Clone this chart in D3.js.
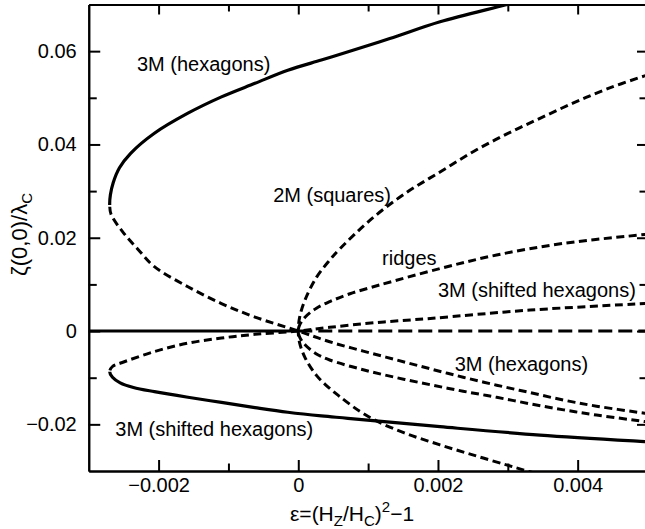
<!DOCTYPE html>
<html>
  <head>
    <style>
      html,
      body {
        margin: 0;
        padding: 0;
        background: #fff;
      }

      svg text {
        font-family: "Liberation Sans", Arial, Helvetica, sans-serif;
        font-size: 20px;
        fill: #000;
      }
    </style>
  </head>
  <body>
    <div id="viz"></div>
    <script src="https://d3js.org/d3.v7.min.js"></script>

    <script>
      // curves, [eps, zeta]
      // hexagons: stable (solid) part from the top down to the turning point, then unstable (dashed)
      const hexBranch = [
        [0.0031, 0.0705], [0.00296, 0.0699], [0.00203, 0.0663], [0.00131, 0.0627],
        [0.00068, 0.0597], [0.00033, 0.0581], [-0.00015, 0.0559], [-0.00062, 0.0531],
        [-0.0011, 0.0502], [-0.00158, 0.0467], [-0.00206, 0.0424], [-0.0024, 0.0381],
        [-0.00256, 0.035], [-0.00265, 0.0318], [-0.00269, 0.0292], [-0.0027, 0.027],
        [-0.00268, 0.025], [-0.0025, 0.021], [-0.0023, 0.0176], [-0.00206, 0.0138],
        [-0.00158, 0.0095], [-0.0011, 0.0059], [-0.00062, 0.003], [0, 0],
        [0.00045, -0.0023], [0.00093, -0.0043], [0.00141, -0.0062], [0.00189, -0.0081],
        [0.00236, -0.0099], [0.00284, -0.0116], [0.00332, -0.0132], [0.0038, -0.0148],
        [0.00427, -0.0161], [0.00496, -0.0176], [0.0052, -0.018],
      ];

      // shifted hexagons: stable (solid) part from the right to the turning point, then unstable (dashed)
      const shiftedBranch = [
        [0.0052, -0.0239], [0.00496, -0.0237], [0.00346, -0.0223], [0.00203, -0.0205],
        [0.00071, -0.0187], [0.00033, -0.0182], [-0.00015, -0.0174], [-0.00062, -0.0164],
        [-0.0011, -0.0153], [-0.00158, -0.0142], [-0.00206, -0.013], [-0.00236, -0.0121],
        [-0.00255, -0.0111], [-0.00266, -0.0099], [-0.0027, -0.0087], [-0.00266, -0.0076],
        [-0.00253, -0.0068], [-0.00206, -0.0044], [-0.00158, -0.0026], [-0.0011, -0.0015],
        [-0.00062, -0.0007], [0, 0], [0.00045, 0.0008], [0.0011, 0.0018],
        [0.00189, 0.0027], [0.00332, 0.0045], [0.00496, 0.0059], [0.0052, 0.0061],
      ];

      const squares = [
        [0.0052, 0.0558], [0.00496, 0.0547], [0.00442, 0.0519], [0.00394, 0.0489],
        [0.00346, 0.0456], [0.00298, 0.0422], [0.00251, 0.0385], [0.00203, 0.0341],
        [0.00155, 0.0297], [0.00107, 0.0243], [0.0006, 0.0177], [0.00045, 0.0152],
        [0.00026, 0.0115], [0.0001, 0.0068], [0.00002, 0.003], [0, 0],
        [0.00002, -0.0026], [0.0001, -0.0058], [0.00026, -0.0095], [0.00045, -0.0123],
        [0.0006, -0.0141], [0.00088, -0.0172], [0.00115, -0.0195], [0.00155, -0.022],
        [0.00203, -0.0244], [0.00251, -0.0266], [0.00298, -0.0287], [0.0033, -0.0301],
        [0.0036, -0.0313],
      ];

      const ridges = [
        [0.0052, 0.0211], [0.00496, 0.0207], [0.0038, 0.0188], [0.00284, 0.0163],
        [0.00203, 0.0134], [0.00117, 0.0099], [0.00074, 0.008], [0.00045, 0.0063],
        [0.00026, 0.0049], [0.0001, 0.003], [0.00002, 0.0013], [0, 0],
        [0.00002, -0.0013], [0.0001, -0.003], [0.00026, -0.0049], [0.00045, -0.0062],
        [0.00093, -0.0083], [0.00141, -0.01], [0.00189, -0.0115], [0.00236, -0.0129],
        [0.00284, -0.0142], [0.00332, -0.0156], [0.0038, -0.0169], [0.00427, -0.018],
        [0.00496, -0.0194], [0.0052, -0.0199],
      ];

      const flatStable = [[-0.003, 0], [0, 0]];
      const flatUnstable = [[0, 0], [0.0052, 0]];

      const xMajorTicks = [-0.002, 0, 0.002, 0.004];
      const xTickLabels = ["\u22120.002", "0", "0.002", "0.004"];
      const xMinorTicks = [-0.001, 0.001, 0.003];
      const yMajorTicks = [-0.02, 0, 0.02, 0.04, 0.06];
      const yTickLabels = ["\u22120.02", "0", "0.02", "0.04", "0.06"];
      const yMinorTicks = [-0.01, 0.01, 0.03, 0.05];

      const labelTexts = [
        "3M (hexagons)", "2M (squares)", "ridges",
        "3M (shifted hexagons)", "3M (hexagons)", "3M (shifted hexagons)",
      ];
      const labelAnchors = [
        [-0.00231, 0.0557], [-0.00036, 0.0277], [0.0012, 0.0142],
        [0.002, 0.0073], [0.00224, -0.0086], [-0.00262, -0.0226],
      ];

      const width = 645;
      const height = 529;
      const plotLeft = 88.75;
      const plotRight = 647.5;
      const plotTop = 4.5;
      const plotBottom = 471;

      const xScale = d3.scaleLinear().domain([-0.003, 0.005]).range([plotLeft, plotRight]);
      const yScale = d3.scaleLinear().domain([-0.03, 0.07]).range([plotBottom, plotTop]);

      const svg = d3
        .select("#viz")
        .append("svg")
        .attr("width", width)
        .attr("height", height)
        .style("display", "block");

      svg.append("rect").attr("width", width).attr("height", height).attr("fill", "#fff");

      const defs = svg.append("defs");
      defs
        .append("clipPath")
        .attr("id", "plot-clip")
        .append("rect")
        .attr("x", plotLeft)
        .attr("y", plotTop)
        .attr("width", plotRight - plotLeft)
        .attr("height", plotBottom - plotTop);

      const line = d3
        .line()
        .x((d) => xScale(d[0]))
        .y((d) => yScale(d[1]))
        .curve(d3.curveCatmullRom.alpha(0.5));

      const dash = "8,4.5";
      const plot = svg.append("g").attr("clip-path", "url(#plot-clip)");

      // split a branch at its turning point (smallest eps): solid on one side, dashed on the other
      const drawBranch = (data, id, solidAbove) => {
        const turn = d3.least(data, (d) => d[0]);
        const yTurn = yScale(turn[1]);
        const solidRect = solidAbove ? [plotTop, yTurn] : [yTurn, plotBottom];
        const dashRect = solidAbove ? [yTurn, plotBottom] : [plotTop, yTurn];
        [["s", solidRect], ["d", dashRect]].forEach(([k, r]) => {
          defs
            .append("clipPath")
            .attr("id", id + k)
            .append("rect")
            .attr("x", plotLeft)
            .attr("y", r[0])
            .attr("width", plotRight - plotLeft)
            .attr("height", r[1] - r[0]);
        });
        plot
          .append("g")
          .attr("clip-path", "url(#" + id + "d)")
          .append("path")
          .attr("d", line(data))
          .attr("fill", "none")
          .attr("stroke", "#000")
          .attr("stroke-width", 3)
          .attr("stroke-dasharray", dash);
        plot
          .append("g")
          .attr("clip-path", "url(#" + id + "s)")
          .append("path")
          .attr("d", line(data))
          .attr("fill", "none")
          .attr("stroke", "#000")
          .attr("stroke-width", 3.2);
      };

      drawBranch(hexBranch, "hex", true);
      drawBranch(shiftedBranch, "shx", false);

      [squares, ridges].forEach((d) => {
        plot
          .append("path")
          .attr("d", line(d))
          .attr("fill", "none")
          .attr("stroke", "#000")
          .attr("stroke-width", 3)
          .attr("stroke-dasharray", dash);
      });

      plot
        .append("path")
        .attr("d", line(flatStable))
        .attr("fill", "none")
        .attr("stroke", "#000")
        .attr("stroke-width", 3);
      plot
        .append("path")
        .attr("d", line(flatUnstable))
        .attr("fill", "none")
        .attr("stroke", "#000")
        .attr("stroke-width", 3)
        .attr("stroke-dasharray", "14,6");

      // axes, ticks pointing inwards on all four sides
      const styleAxis = (g) => {
        g.selectAll("path, line").attr("stroke", "#000").attr("stroke-width", 2);
        g.selectAll("text").attr("font-size", null).attr("font-family", null).attr("fill", "#000");
      };

      svg
        .append("g")
        .attr("transform", `translate(0,${plotBottom})`)
        .call(
          d3.axisBottom(xScale).tickValues(xMajorTicks).tickSizeInner(-11).tickSizeOuter(0)
            .tickPadding(7).tickFormat((d, i) => xTickLabels[i])
        )
        .call(styleAxis);
      svg
        .append("g")
        .attr("transform", `translate(0,${plotBottom})`)
        .call(d3.axisBottom(xScale).tickValues(xMinorTicks).tickSizeInner(-7.5).tickSizeOuter(0).tickFormat(""))
        .call(styleAxis);
      svg
        .append("g")
        .attr("transform", `translate(0,${plotTop})`)
        .call(d3.axisTop(xScale).tickValues(xMajorTicks).tickSizeInner(-10).tickSizeOuter(0).tickFormat(""))
        .call(styleAxis);
      svg
        .append("g")
        .attr("transform", `translate(0,${plotTop})`)
        .call(d3.axisTop(xScale).tickValues(xMinorTicks).tickSizeInner(-7).tickSizeOuter(0).tickFormat(""))
        .call(styleAxis);

      svg
        .append("g")
        .attr("transform", `translate(${plotLeft},0)`)
        .call(
          d3.axisLeft(yScale).tickValues(yMajorTicks).tickSizeInner(-11.5).tickSizeOuter(0)
            .tickPadding(12).tickFormat((d, i) => yTickLabels[i])
        )
        .call(styleAxis);
      svg
        .append("g")
        .attr("transform", `translate(${plotLeft},0)`)
        .call(d3.axisLeft(yScale).tickValues(yMinorTicks).tickSizeInner(-8).tickSizeOuter(0).tickFormat(""))
        .call(styleAxis);
      svg
        .append("g")
        .attr("transform", `translate(${plotRight},0)`)
        .call(d3.axisRight(yScale).tickValues(yMajorTicks).tickSizeInner(-10.5).tickSizeOuter(0).tickFormat(""))
        .call(styleAxis);
      svg
        .append("g")
        .attr("transform", `translate(${plotRight},0)`)
        .call(d3.axisRight(yScale).tickValues(yMinorTicks).tickSizeInner(-8).tickSizeOuter(0).tickFormat(""))
        .call(styleAxis);

      // curve labels
      svg
        .append("g")
        .selectAll("text")
        .data(labelTexts)
        .join("text")
        .attr("x", (d, i) => xScale(labelAnchors[i][0]))
        .attr("y", (d, i) => yScale(labelAnchors[i][1]))
        .text((d) => d);

      // axis titles
      const xTitle = svg.append("text").attr("x", 290).attr("y", 521).style("font-size", "21px");
      xTitle.append("tspan").text("\u03b5=(H");
      xTitle.append("tspan").attr("font-size", 15).attr("dy", 5).text("Z");
      xTitle.append("tspan").attr("dy", -5).text("/H");
      xTitle.append("tspan").attr("font-size", 15).attr("dy", 5).text("C");
      xTitle.append("tspan").attr("dy", -5).text(")");
      xTitle.append("tspan").attr("font-size", 15).attr("dy", -9).text("2");
      xTitle.append("tspan").attr("dy", 9).text("\u22121");

      const yTitle = svg
        .append("text")
        .attr("transform", "translate(27,193) rotate(-90)")
        .attr("text-anchor", "end")
        .style("font-size", "22px");
      yTitle.append("tspan").text("\u03b6(0,0)/\u03bb");
      yTitle.append("tspan").attr("font-size", 15).attr("dy", 5).text("C");
    </script>
  </body>
</html>
